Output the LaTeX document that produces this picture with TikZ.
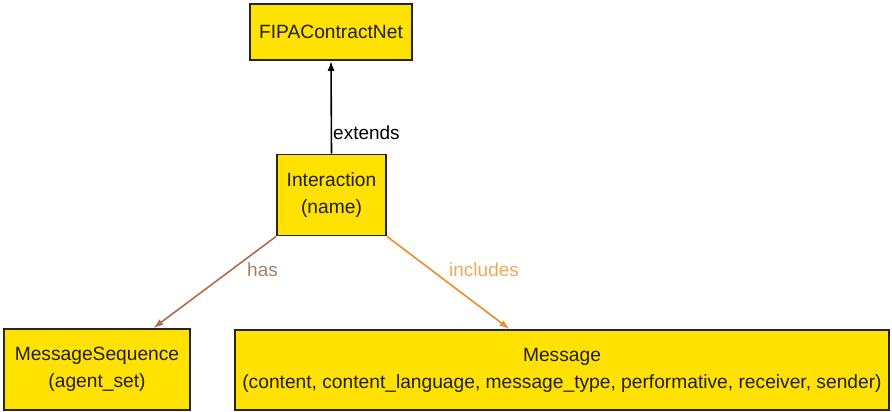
\documentclass[tikz,border=0pt]{standalone}
\usepackage{fontspec}
\setmainfont{Liberation Sans}
\usetikzlibrary{arrows.meta,calc}
\definecolor{boxfill}{RGB}{255,226,0}
\definecolor{boxline}{RGB}{40,36,30}
\definecolor{boxtext}{RGB}{35,30,20}
\definecolor{hasline}{RGB}{172,110,78}
\definecolor{haslabel}{RGB}{170,125,105}
\definecolor{incline}{RGB}{240,140,40}
\definecolor{inclabel}{RGB}{238,168,90}
\tikzset{
  entity/.style={draw=boxline, line width=1.8pt, fill=boxfill, text=boxtext,
    align=center, inner sep=0pt, font=\fontsize{19.2}{27}\selectfont},
  rel/.style={line width=1.6pt, -{Latex[length=10pt,width=7pt]}},
  rellabel/.style={font=\fontsize{19}{26}\selectfont, inner sep=0pt}
}
\begin{document}
\begin{tikzpicture}[x=1pt,y=-1pt]
  \useasboundingbox (0,0) rectangle (892,412);
  \node[entity, minimum width=162pt, minimum height=56pt] (fipa) at (331,32) {FIPAContractNet};
  \node[entity, minimum width=109pt, minimum height=81pt] (inter) at (331.5,195) {Interaction\\(name)};
  \node[entity, minimum width=186pt, minimum height=81pt] (mseq) at (97,369.5) {MessageSequence\\(agent\_set)};
  \node[entity, minimum width=654pt, minimum height=80pt] (msg) at (562,370)
    {Message\\(content, content\_language, message\_type, performative, receiver, sender)};

  \coordinate (hasend) at ($(mseq.north west)!0.8!(mseq.north east)$);
  \coordinate (incend) at ($(msg.north west)!0.42!(msg.north east)$);

  \draw[rel, black] (inter.north) -- (fipa.south);
  \draw[rel, hasline] (inter.south west) -- (hasend);
  \draw[rel, incline] (inter.south east) -- (incend);

  \node[rellabel, anchor=west] (lext) at (333,133) {extends};
  \node[rellabel, anchor=west, text=haslabel] (lhas) at (247,270) {has};
  \node[rellabel, anchor=west, text=inclabel] (linc) at (449,270) {includes};
\end{tikzpicture}
\end{document}
